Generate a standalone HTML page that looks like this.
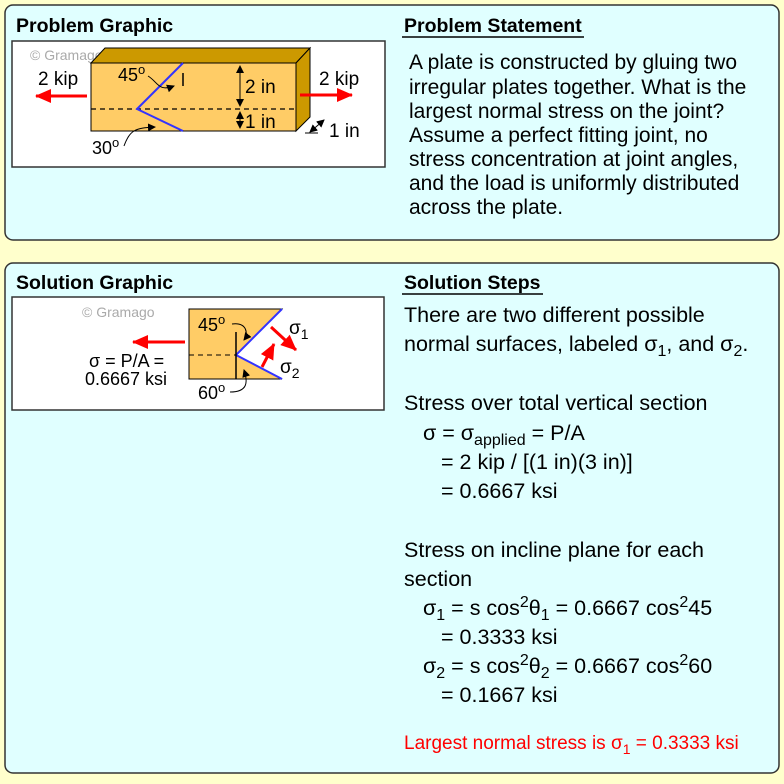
<!DOCTYPE html>
<html><head><style>
body{margin:0;width:784px;height:779px;background:#ffffcc;overflow:hidden}
svg{font-family:"Liberation Sans",sans-serif}
</style></head><body>
<svg width="784" height="779" xmlns="http://www.w3.org/2000/svg">
<defs>
<marker id="ra" markerWidth="6" markerHeight="6" refX="5" refY="3" orient="auto" markerUnits="strokeWidth"><path d="M0,0L6,3L0,6z" fill="#f00"/></marker>
<marker id="ra2" markerWidth="16" markerHeight="14" refX="15" refY="7" orient="auto" markerUnits="userSpaceOnUse"><path d="M0,0L16,7L0,14z" fill="#f00"/></marker>
<marker id="ba" markerWidth="8" markerHeight="8" refX="7" refY="4" orient="auto" markerUnits="userSpaceOnUse"><path d="M0,0L8,4L0,8z" fill="#000"/></marker>
<marker id="bs" markerWidth="8" markerHeight="8" refX="1" refY="4" orient="auto" markerUnits="userSpaceOnUse"><path d="M8,0L0,4L8,8z" fill="#000"/></marker>
</defs>
<rect x="5" y="5" width="774" height="235" rx="8" fill="#e0ffff" stroke="#333" stroke-width="1.5"/>
<rect x="5" y="263" width="774" height="510" rx="8" fill="#e0ffff" stroke="#333" stroke-width="1.5"/>
<g font-weight="bold" font-size="19.5">
<text x="16" y="32">Problem Graphic</text>
<text x="404" y="32">Problem Statement</text>
<text x="16" y="289">Solution Graphic</text>
<text x="404" y="289">Solution Steps</text>
</g>
<line x1="402" y1="37" x2="584" y2="37" stroke="#000" stroke-width="1.5"/>
<line x1="402" y1="294" x2="543" y2="294" stroke="#000" stroke-width="1.5"/>
<g font-size="21">
<text x="409" y="69">A plate is constructed by gluing two</text>
<text x="409" y="94">irregular plates together. What is the</text>
<text x="409" y="118">largest normal stress on the joint?</text>
<text x="409" y="142">Assume a perfect fitting joint, no</text>
<text x="409" y="166">stress concentration at joint angles,</text>
<text x="409" y="190">and the load is uniformly distributed</text>
<text x="409" y="214">across the plate.</text>
</g>
<!-- problem graphic -->
<rect x="12" y="41" width="373" height="126" fill="#fff" stroke="#333" stroke-width="1.5"/>
<text x="30" y="60" font-size="14" fill="#aaa">© Gramago</text>
<polygon points="91,63 105,48 310,48 296,63" fill="#cc9900" stroke="#000"/>
<polygon points="296,63 310,48 310,117 296,131" fill="#cc9900" stroke="#000"/>
<rect x="91" y="63" width="205" height="68" fill="#ffcc66" stroke="#000"/>
<line x1="91" y1="109" x2="296" y2="109" stroke="#000" stroke-dasharray="5,4" stroke-width="1.3"/>
<polyline points="183,63 137,109 183,131" fill="none" stroke="#3333ff" stroke-width="2"/>
<line x1="183" y1="73" x2="183" y2="86" stroke="#000" stroke-width="1.5"/>
<line x1="240" y1="66" x2="240" y2="106" stroke="#000" marker-end="url(#ba)" marker-start="url(#bs)"/>
<line x1="240" y1="112" x2="240" y2="128" stroke="#000" marker-end="url(#ba)" marker-start="url(#bs)"/>
<text x="245" y="93" font-size="19">2 in</text>
<text x="245" y="128" font-size="19">1 in</text>
<path d="M148,76 C158,82 158,92 174,86" fill="none" stroke="#000" marker-end="url(#ba)"/>
<text x="118" y="81" font-size="18">45<tspan font-size="13" dy="-7">o</tspan></text>
<path d="M124,146 C130,130 135,128 155,127" fill="none" stroke="#000" marker-end="url(#ba)"/>
<text x="92" y="154" font-size="18">30<tspan font-size="13" dy="-7">o</tspan></text>
<line x1="87" y1="96" x2="36" y2="96" stroke="#f00" stroke-width="3" marker-end="url(#ra2)"/>
<line x1="300" y1="95" x2="352" y2="95" stroke="#f00" stroke-width="3" marker-end="url(#ra2)"/>
<text x="38" y="85" font-size="19">2 kip</text>
<text x="319" y="85" font-size="19">2 kip</text>
<line x1="310" y1="132" x2="324" y2="120" stroke="#000" marker-end="url(#ba)" marker-start="url(#bs)"/>
<line x1="305" y1="133" x2="318" y2="133" stroke="#000"/>
<text x="329" y="137" font-size="19">1 in</text>
<!-- solution graphic -->
<rect x="12" y="297" width="372" height="113" fill="#fff" stroke="#333" stroke-width="1.5"/>
<text x="82" y="317" font-size="14" fill="#aaa">© Gramago</text>
<polygon points="189,309 282,309 236,355 282,379 189,379" fill="#ffcc66" stroke="#000"/>
<polyline points="282,309 236,355 282,379" fill="none" stroke="#3333ff" stroke-width="2"/>
<line x1="189" y1="355" x2="236" y2="355" stroke="#000" stroke-dasharray="5,4"/>
<line x1="236" y1="332" x2="236" y2="379" stroke="#000" stroke-width="1.5"/>
<line x1="185" y1="342" x2="133" y2="342" stroke="#f00" stroke-width="3" marker-end="url(#ra2)"/>
<line x1="271" y1="327" x2="296" y2="350" stroke="#f00" stroke-width="3" marker-end="url(#ra2)"/>
<line x1="262" y1="367" x2="274" y2="344" stroke="#f00" stroke-width="3" marker-end="url(#ra2)"/>
<text x="198" y="331" font-size="18">45<tspan font-size="13" dy="-7">o</tspan></text>
<path d="M232,324 C248,322 248,335 244,340" fill="none" stroke="#000" marker-end="url(#ba)"/>
<text x="198" y="399" font-size="18">60<tspan font-size="13" dy="-7">o</tspan></text>
<path d="M230,392 C248,392 248,382 244,370" fill="none" stroke="#000" marker-end="url(#ba)"/>
<text x="289" y="334" font-size="19">σ<tspan font-size="14" dy="5">1</tspan></text>
<text x="280" y="373" font-size="19">σ<tspan font-size="14" dy="5">2</tspan></text>
<text x="89" y="367" font-size="18">σ = P/A =</text>
<text x="85" y="385" font-size="18">0.6667 ksi</text>
<!-- steps -->
<g font-size="21.5">
<text x="404" y="322">There are two different possible</text>
<text x="404" y="351">normal surfaces, labeled σ<tspan font-size="16" dy="5">1</tspan><tspan dy="-5">, and σ</tspan><tspan font-size="16" dy="5">2</tspan><tspan dy="-5">.</tspan></text>
<text x="404" y="410">Stress over total vertical section</text>
<text x="423" y="440">σ = σ<tspan font-size="16" dy="5">applied</tspan><tspan dy="-5"> = P/A</tspan></text>
<text x="441" y="469">= 2 kip / [(1 in)(3 in)]</text>
<text x="441" y="498">= 0.6667 ksi</text>
<text x="404" y="557">Stress on incline plane for each</text>
<text x="404" y="586">section</text>
<text x="423" y="615">σ<tspan font-size="16" dy="5">1</tspan><tspan dy="-5"> = s cos</tspan><tspan font-size="16" dy="-8">2</tspan><tspan dy="8">θ</tspan><tspan font-size="16" dy="5">1</tspan><tspan dy="-5"> = 0.6667 cos</tspan><tspan font-size="16" dy="-8">2</tspan><tspan dy="8">45</tspan></text>
<text x="441" y="644">= 0.3333 ksi</text>
<text x="423" y="673">σ<tspan font-size="16" dy="5">2</tspan><tspan dy="-5"> = s cos</tspan><tspan font-size="16" dy="-8">2</tspan><tspan dy="8">θ</tspan><tspan font-size="16" dy="5">2</tspan><tspan dy="-5"> = 0.6667 cos</tspan><tspan font-size="16" dy="-8">2</tspan><tspan dy="8">60</tspan></text>
<text x="441" y="702">= 0.1667 ksi</text>
</g>
<text x="404" y="749" font-size="19" fill="#f00">Largest normal stress is σ<tspan font-size="14" dy="5">1</tspan><tspan dy="-5"> = 0.3333 ksi</tspan></text>
</svg>
</body></html>
